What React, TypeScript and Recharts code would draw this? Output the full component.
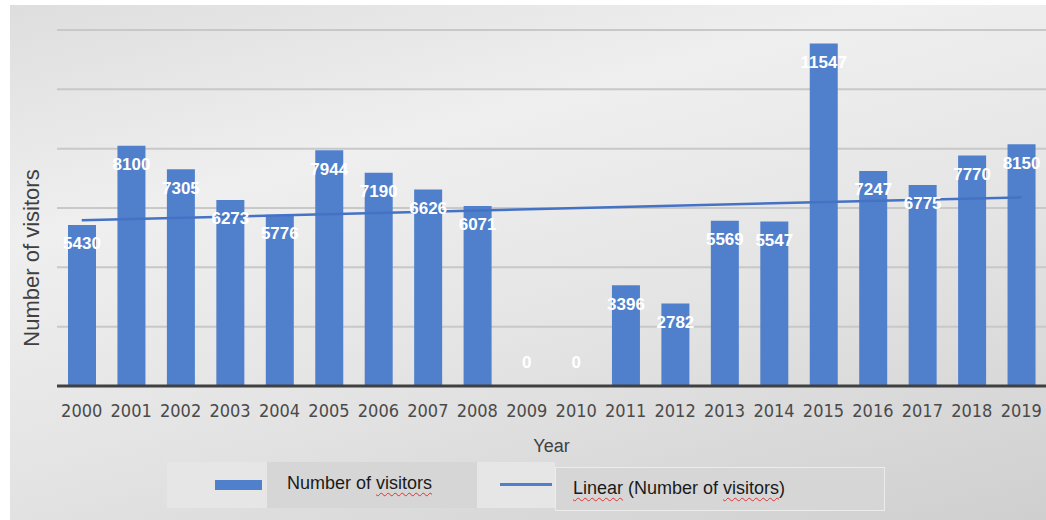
import React from 'react';
import { ComposedChart, Bar, Line, XAxis, YAxis, CartesianGrid, Legend, LabelList } from 'recharts';

// values
const years = ['2000', '2001', '2002', '2003', '2004', '2005', '2006', '2007', '2008', '2009', '2010', '2011', '2012', '2013', '2014', '2015', '2016', '2017', '2018', '2019'];
const visitors = [5430, 8100, 7305, 6273, 5776, 7944, 7190, 6626, 6071, 0, 0, 3396, 2782, 5569, 5547, 11547, 7247, 6775, 7770, 8150];
// trend line end points as drawn (only first and last year)
const trend = [5590, null, null, null, null, null, null, null, null, null, null, null, null, null, null, null, null, null, null, 6360];
const yTicks = [0, 2000, 4000, 6000, 8000, 10000, 12000];

const data = years.map((year, i) => ({ year, visitors: visitors[i], trend: trend[i] }));

const BLUE = '#5080cc';
const FONT = '"Liberation Sans", Arial, sans-serif';

// labels inside the top of each bar
const renderValue = (props: any) => {
  const { x, y, width, value } = props;
  if (value === 0) return null;
  return (
    <text x={x + width / 2} y={y + 20} textAnchor="middle" dominantBaseline="middle" fill="#ffffff" fontWeight="bold" fontSize={17} fontFamily={FONT}>
      {value}
    </text>
  );
};

// zero bars have no rect, so their labels come from the hidden line's points
const renderZero = (props: any) => {
  const { x, y, value } = props;
  if (value !== 0) return null;
  return (
    <text x={x} y={y - 22} textAnchor="middle" dominantBaseline="middle" fill="#ffffff" fontWeight="bold" fontSize={17} fontFamily={FONT}>
      {value}
    </text>
  );
};

const renderYLabel = (props: any) => {
  const { viewBox } = props;
  const x = 33;
  const y = viewBox.y + 228;
  return (
    <text x={x} y={y} transform={`rotate(-90, ${x}, ${y})`} textAnchor="middle" dominantBaseline="middle" fill="#404040" fontSize={22} fontFamily={FONT}>
      Number of visitors
    </text>
  );
};

const squiggle: React.CSSProperties = { textDecoration: 'underline wavy #e03030', textDecorationThickness: 1, textUnderlineOffset: 3 };

const renderLegend = () => (
  <div style={{ position: 'relative', height: 60, fontFamily: FONT, fontSize: 18, color: '#1a1a1a' }}>
    <div style={{ position: 'absolute', left: 167, top: 4, width: 100, height: 46, background: '#e6e6e6' }} />
    <div style={{ position: 'absolute', left: 215, top: 22, width: 47, height: 10, background: BLUE }} />
    <div style={{ position: 'absolute', left: 267, top: 4, width: 210, height: 46, background: '#d6d6d6' }} />
    <div style={{ position: 'absolute', left: 287, top: 15 }}>
      Number of <span style={squiggle}>visitors</span>
    </div>
    <div style={{ position: 'absolute', left: 477, top: 4, width: 78, height: 46, background: '#e6e6e6' }} />
    <div style={{ position: 'absolute', left: 500, top: 25, width: 52, height: 3, background: BLUE }} />
    <div style={{ position: 'absolute', left: 555, top: 9, width: 328, height: 42, background: '#d6d6d6', border: '1px solid #ececec' }} />
    <div style={{ position: 'absolute', left: 573, top: 20 }}>
      <span style={squiggle}>Linear</span> (Number of <span style={squiggle}>visitors</span>)
    </div>
  </div>
);

export default function App() {
  return (
    <div style={{ position: 'fixed', left: 0, top: 0, width: 1046, height: 520, background: '#ffffff' }}>
      <div style={{ position: 'absolute', left: 10, top: 5, width: 1036, height: 515, background: 'linear-gradient(165deg, #dedede 0%, #efefef 30%, #e4e4e4 60%, #cfcfcf 100%)' }} />
      <ComposedChart
        width={1046}
        height={520}
        data={data}
        margin={{ top: 30, right: 0, left: 0, bottom: 2 }}
        style={{ position: 'absolute', left: 0, top: 0 }}
      >
        <CartesianGrid vertical={false} stroke="#c8c8c8" strokeWidth={2} />
        <XAxis
          dataKey="year"
          tickLine={false}
          axisLine={{ stroke: '#404040', strokeWidth: 3 }}
          tick={{ fill: '#4a4a4a', fontSize: 18, fontFamily: '"DejaVu Sans Condensed", "DejaVu Sans", sans-serif' }}
          tickMargin={12}
          interval={0}
          height={72}
          label={{ value: 'Year', position: 'insideBottom', offset: 6, fill: '#404040', fontSize: 18, fontFamily: FONT }}
        />
        <YAxis
          width={57}
          domain={[0, 12000]}
          ticks={yTicks}
          tick={() => <g />}
          tickLine={false}
          axisLine={false}
          label={renderYLabel}
        />
        <Legend verticalAlign="bottom" height={60} content={renderLegend} />
        <Bar dataKey="visitors" name="Number of visitors" fill={BLUE} barSize={28} isAnimationActive={false}>
          <LabelList dataKey="visitors" content={renderValue} />
        </Bar>
        <Line
          dataKey="visitors"
          legendType="none"
          stroke="none"
          dot={false}
          activeDot={false}
          isAnimationActive={false}
        >
          <LabelList dataKey="visitors" content={renderZero} />
        </Line>
        <Line
          dataKey="trend"
          name="Linear (Number of visitors)"
          stroke="#4472c4"
          strokeWidth={2.5}
          dot={false}
          connectNulls
          isAnimationActive={false}
        />
      </ComposedChart>
    </div>
  );
}
